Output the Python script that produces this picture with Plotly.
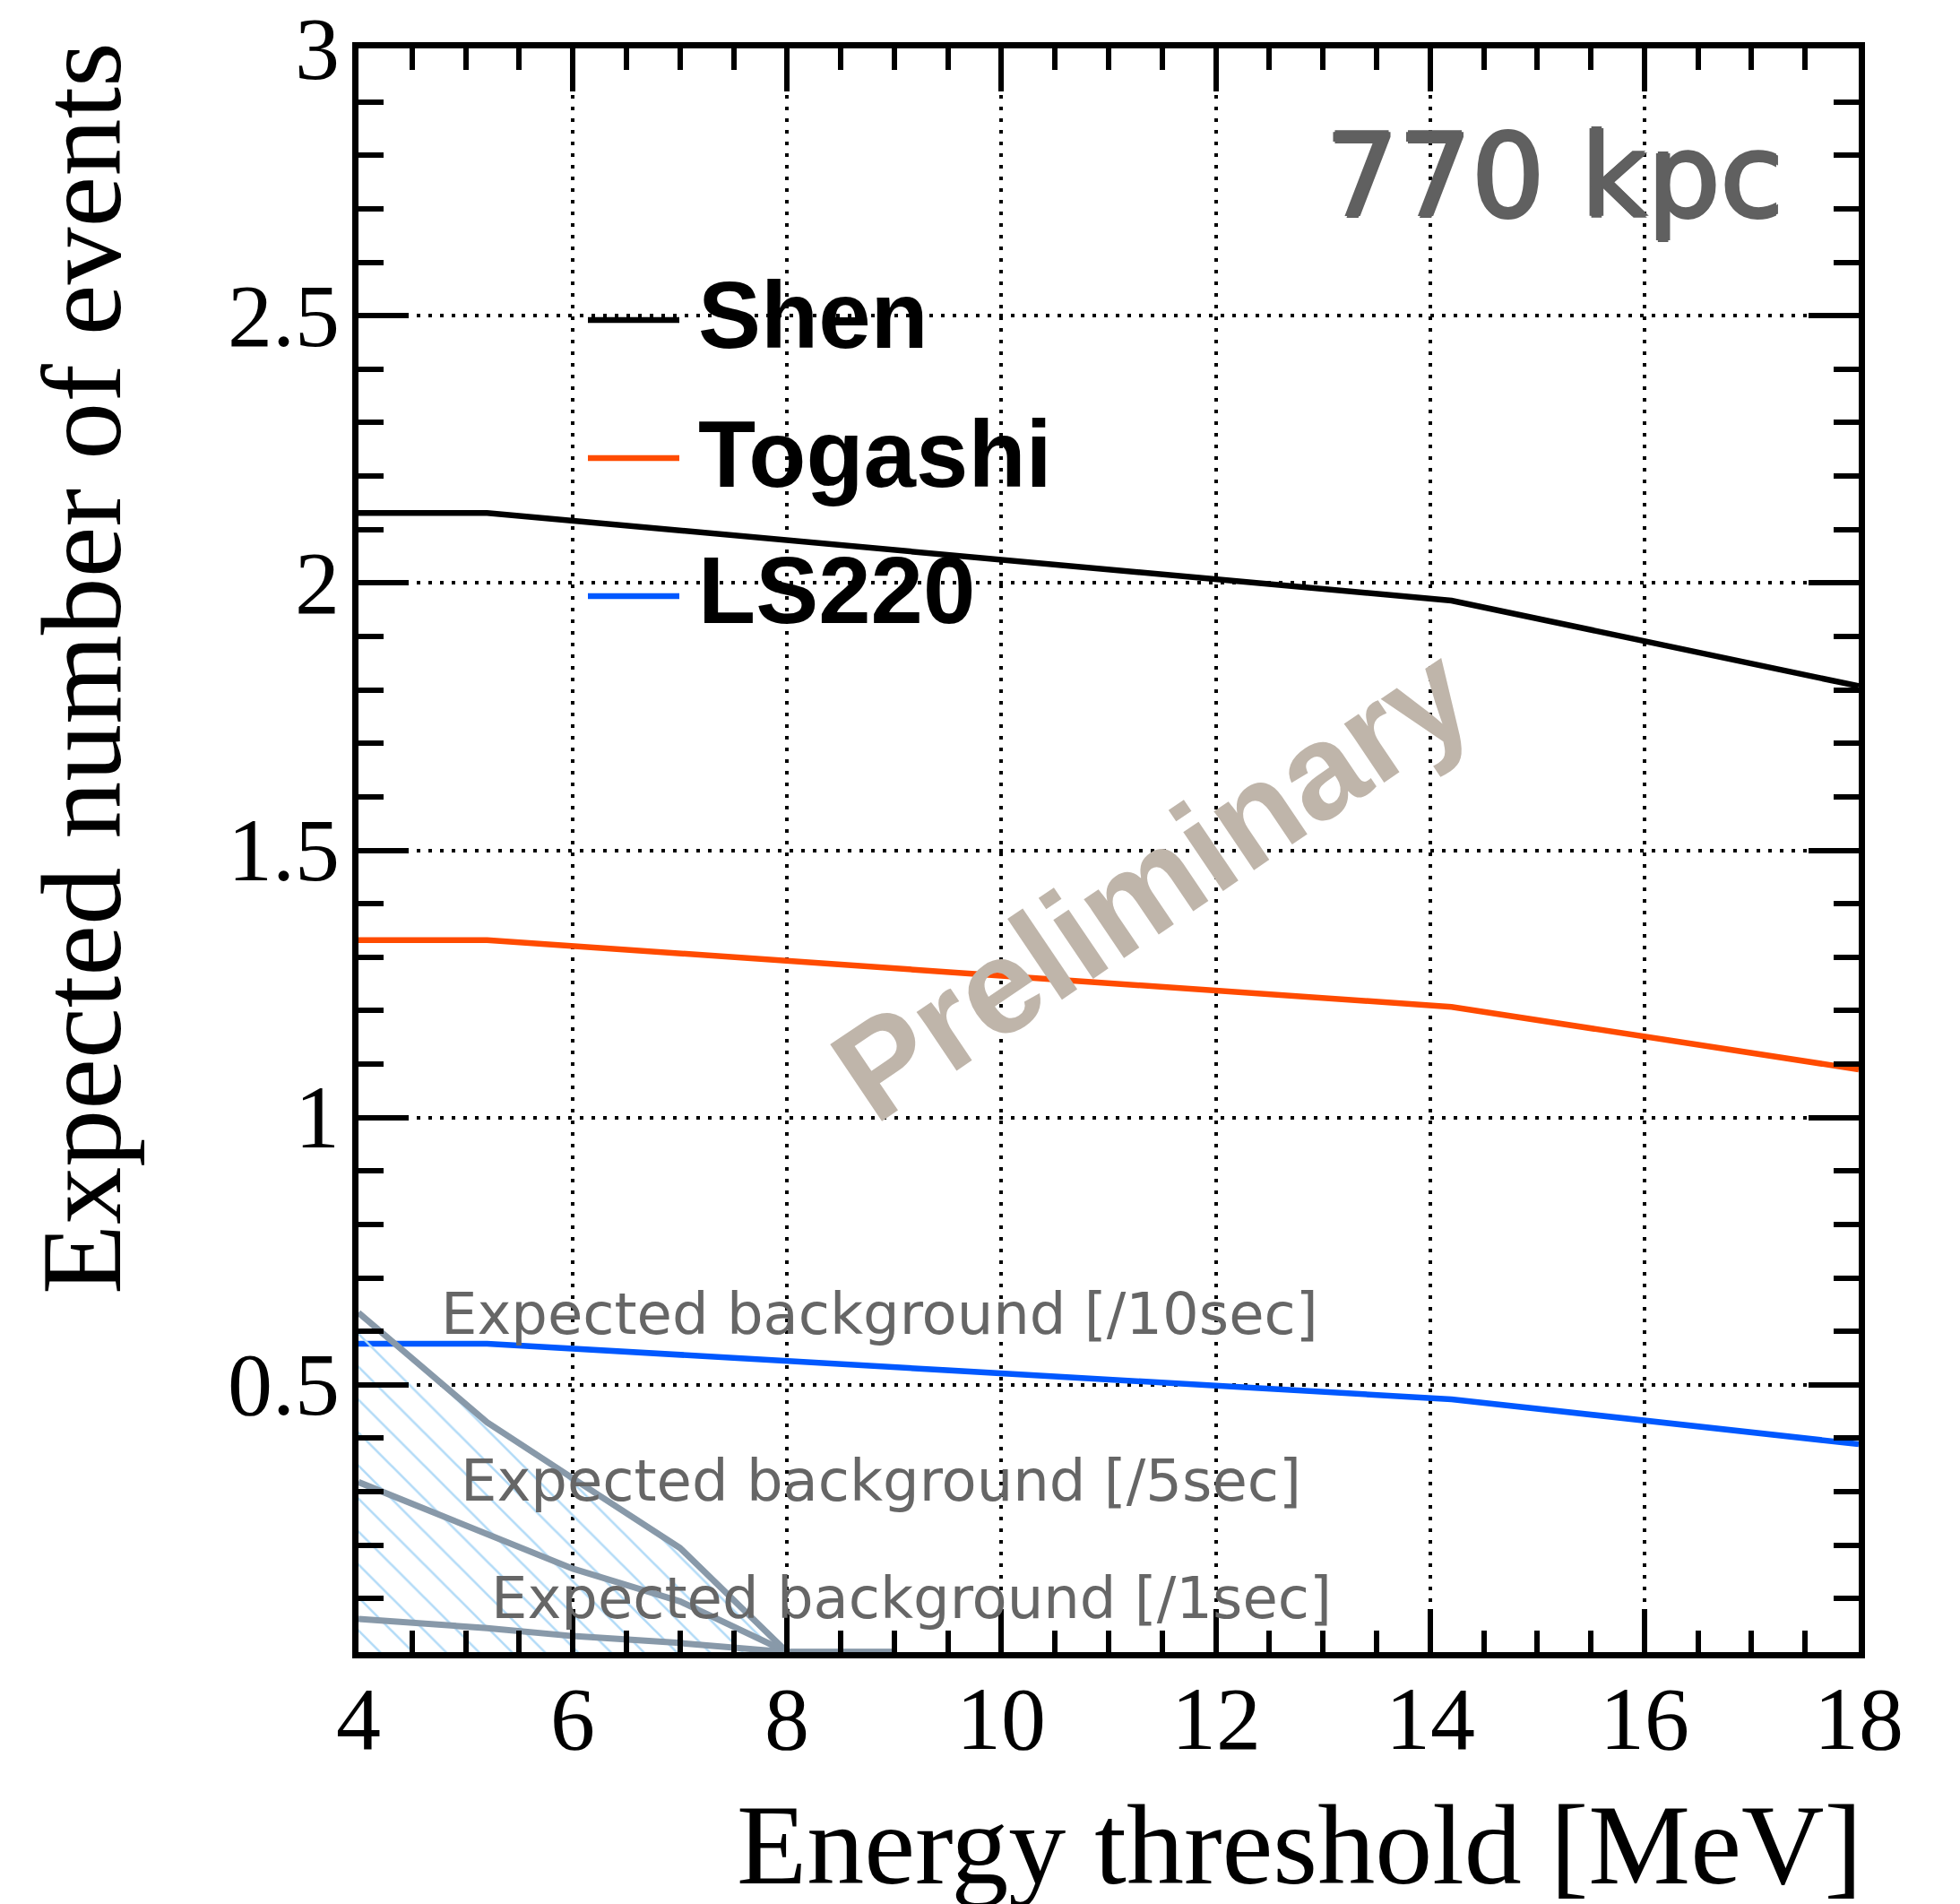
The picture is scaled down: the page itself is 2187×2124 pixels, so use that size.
import plotly.graph_objects as go

# ---------------- data ----------------
threshold = [4.0, 5.2, 14.2, 18.0]
shen = [2.131, 2.131, 1.967, 1.807]
togashi = [1.332, 1.332, 1.207, 1.090]
ls220 = [0.577, 0.577, 0.473, 0.389]

bg_threshold = [4.0, 5.2, 6.0, 7.0, 8.0, 9.0]
bg_10sec = [0.635, 0.430, 0.325, 0.195, 0.0, 0.0]
bg_5sec = [0.318, 0.222, 0.156, 0.095, 0.0, 0.0]
bg_1sec = [0.062, 0.045, 0.030, 0.017, 0.0, 0.0]

x_ticks = [4, 6, 8, 10, 12, 14, 16, 18]
x_ticklabels = ["4", "6", "8", "10", "12", "14", "16", "18"]
y_ticks = [0.5, 1, 1.5, 2, 2.5, 3]
y_ticklabels = ["0.5", "1", "1.5", "2", "2.5", "3"]

series = [("Shen", shen, "#000000"), ("Togashi", togashi, "#ff4b00"), ("LS220", ls220, "#0058ff")]
bg_series = [("Expected background [/10sec]", bg_10sec),
             ("Expected background [/5sec]", bg_5sec),
             ("Expected background [/1sec]", bg_1sec)]

# ---------------- geometry ----------------
W, H = 2187, 2124
PL, PR, PT, PB = 400, 2074, 54, 1843   # plot area (axis lines drawn 3.5px outside)


def px(X):
    return (X - PL) / (PR - PL)


def py(Y):
    return (PB - Y) / (PB - PT)


BG_COLOR = "#8899a9"
fig = go.Figure()

for name, vals, col in series:
    fig.add_trace(go.Scatter(x=threshold, y=vals, mode="lines", name=name,
                             line=dict(color=col, width=6.5), showlegend=False))

for i, (name, vals) in enumerate(bg_series):
    kw = {}
    if i == 0:
        kw = dict(fill="tozeroy", fillcolor="rgba(0,0,0,0)",
                  fillpattern=dict(shape="\\", fgcolor="#b2dbf7", bgcolor="rgba(0,0,0,0)",
                                   size=26, solidity=0.1, fillmode="replace"))
    fig.add_trace(go.Scatter(x=bg_threshold, y=vals, mode="lines", name=name,
                             line=dict(color=BG_COLOR, width=7), showlegend=False, **kw))

axis_common = dict(
    showline=True, linewidth=7, linecolor="black", mirror="allticks",
    ticks="inside", tickcolor="black", tickwidth=6, showticklabels=False,
    showgrid=True, gridcolor="black", gridwidth=3.5, griddash="4px,9px",
    zeroline=False,
)

fig.update_xaxes(range=[4, 18], tickmode="array", tickvals=x_ticks, ticklen=48,
                 minor=dict(tickmode="linear", tick0=4, dtick=0.5, ticks="inside", ticklen=24,
                            tickwidth=6, tickcolor="black", showgrid=False),
                 **axis_common)
fig.update_yaxes(range=[0, 3], tickmode="array", tickvals=y_ticks, ticklen=56,
                 minor=dict(tickmode="linear", tick0=0, dtick=0.1, ticks="inside", ticklen=28,
                            tickwidth=6, tickcolor="black", showgrid=False),
                 **axis_common)

annotations = []
tick_font = dict(family="Liberation Serif", size=100, color="black")
for v, t in zip(x_ticks, x_ticklabels):
    annotations.append(dict(text=t, xref="x", yref="paper", x=v, y=py(1918),
                            xanchor="center", yanchor="middle", showarrow=False, font=tick_font))
for v, t in zip(y_ticks, y_ticklabels):
    annotations.append(dict(text=t, xref="paper", yref="y", x=px(381), y=v,
                            xanchor="right", yanchor="middle", showarrow=False, font=tick_font))

# legend (manual)
leg_y_line = [357, 511, 665]
leg_y_text = [352, 506.5, 659]
shapes = []
for (name, vals, col), yl, yt in zip(series, leg_y_line, leg_y_text):
    shapes.append(dict(type="line", xref="paper", yref="paper", x0=px(656), x1=px(758),
                       y0=py(yl), y1=py(yl), line=dict(color=col, width=6.5)))
    annotations.append(dict(text=name, xref="paper", yref="paper", x=px(777), y=py(yt),
                            xanchor="left", yanchor="middle", showarrow=False,
                            font=dict(family="Liberation Sans", size=105, color="black", weight="bold")))

# background labels
for (name, vals), xl, yc in zip(bg_series, [490, 512, 546], [1466, 1652, 1783]):
    annotations.append(dict(text=name, xref="paper", yref="paper", x=px(xl), y=py(yc),
                            xanchor="left", yanchor="middle", showarrow=False,
                            font=dict(family="DejaVu Sans", size=64, color="#666666")))

# distance label
g = "#606060"
annotations.append(dict(text="770 kpc", xref="paper", yref="paper", x=px(1734), y=py(196),
                        xanchor="center", yanchor="middle", showarrow=False,
                        font=dict(family="DejaVu Sans", size=128, color=g,
                                  shadow=f"2px 0 0 {g}, -2px 0 0 {g}, 0 2px 0 {g}, 0 -2px 0 {g}")))

# preliminary watermark
annotations.append(dict(text="Preliminary", xref="paper", yref="paper", x=px(1285), y=py(985),
                        xanchor="center", yanchor="middle", showarrow=False, textangle=-34,
                        font=dict(family="Liberation Sans", size=150, color="#bfb5aa", weight="bold")))

# axis titles
annotations.append(dict(text="Energy threshold [MeV]", xref="paper", yref="paper", x=px(2080), y=py(2058),
                        xanchor="right", yanchor="middle", showarrow=False,
                        font=dict(family="Liberation Serif", size=128, color="black")))
annotations.append(dict(text="Expected number of events", xref="paper", yref="paper", x=px(91), y=py(746),
                        xanchor="center", yanchor="middle", showarrow=False, textangle=-90,
                        font=dict(family="Liberation Serif", size=128, color="black")))

fig.update_layout(
    width=W, height=H,
    margin=dict(l=PL, r=W - PR, t=PT, b=H - PB, pad=0, autoexpand=False),
    paper_bgcolor="white", plot_bgcolor="white",
    showlegend=False,
    annotations=annotations, shapes=shapes,
)

fig.write_html("out.html")
